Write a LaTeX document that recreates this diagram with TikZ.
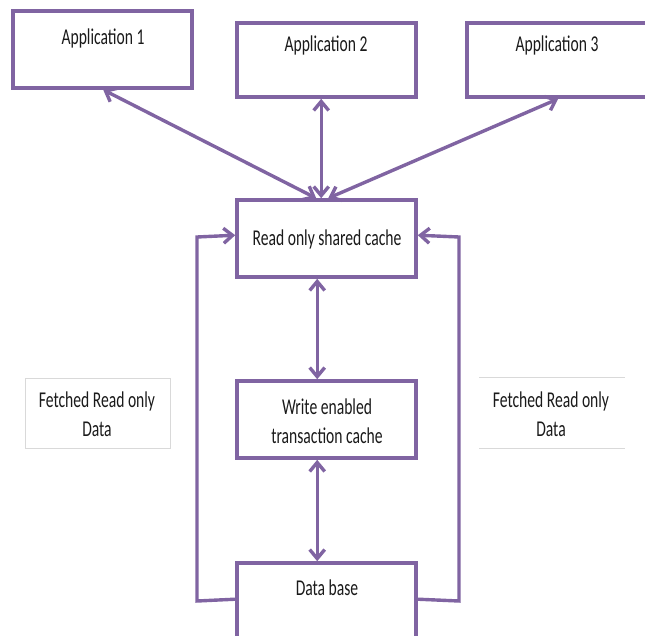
\documentclass[tikz,border=0pt]{standalone}
\usepackage{fontspec}
\setmainfont{Carlito}
\usetikzlibrary{arrows.meta,calc}
\definecolor{pur}{HTML}{8064A2}
\definecolor{lgray}{HTML}{D9D9D9}
\definecolor{txt}{HTML}{1A1A1A}
\newcommand{\tx}[1]{\scalebox{1}[1.45]{\begin{tabular}{@{}c@{}}#1\end{tabular}}}
\tikzset{
  box/.style={draw=pur, line width=3.6pt, minimum width=179pt, minimum height=77pt, inner sep=0pt, fill=white},
  lbl/.style={font=\fontsize{15.6}{20.5}\selectfont, text=txt, inner sep=0pt, align=center},
  link/.style={draw=pur, line width=3.4pt, {Straight Barb[length=9pt,width=15pt]}-{Straight Barb[length=9pt,width=15pt]}},
  loop/.style={draw=pur, line width=3.4pt, -{Straight Barb[length=9pt,width=15pt]}},
}
\begin{document}
\begin{tikzpicture}[x=1pt,y=-1pt]
\useasboundingbox (0,0) rectangle (645,635);
\clip (0,0) rectangle (645,635);
% boxes
\node[box, minimum height=77pt] (app1) at (102.5,49.5) {};
\node[box, minimum height=74pt] (app2) at (326.5,60) {};
\node[box, minimum height=74pt, minimum width=183pt] (app3) at (558.5,60) {};
\node[box] (read) at (326.5,238.5) {};
\node[box] (write) at (326.5,419.5) {};
\node[box] (db) at (326.5,601.5) {};
% fetched boxes
\node[draw=lgray, line width=0.8pt, minimum width=145pt, minimum height=70pt, inner sep=0pt] (fl) at (97.5,413) {};
\coordinate (frtl) at (479,377);
\coordinate (frtr) at (625,377);
\coordinate (frbl) at (479,448);
\coordinate (frbr) at (625,448);
\draw[lgray, line width=0.8pt] (frtl) -- (frtr);
\draw[lgray, line width=0.8pt] (frbl) -- (frbr);
% texts
\node[lbl] (t1) at (103,39) {\tx{Application 1}};
\node[lbl] (t2) at (326,46) {\tx{Application 2}};
\node[lbl] (t3) at (557,46) {\tx{Application 3}};
\node[lbl] (t4) at (327,240) {\tx{Read only shared cache}};
\node[lbl] (t5) at (327,423) {\tx{Write enabled\\transaction cache}};
\node[lbl] (t6) at (327,590) {\tx{Data base}};
\node[lbl] (t7) at (97,416) {\tx{Fetched Read only\\Data}};
\node[lbl] (t8) at (551,416) {\tx{Fetched Read only\\Data}};
% arrows
\coordinate (a1) at ($(app1.south west)+(92,0)$);
\coordinate (r1) at ($(read.north west)+(81,0)$);
\coordinate (a2) at ($(app2.south west)+(86,0)$);
\coordinate (r2) at ($(read.north west)+(86,0)$);
\coordinate (a3) at ($(app3.south west)+(93,0)$);
\coordinate (r3) at ($(read.north west)+(93,0)$);
\draw[link] (a1) -- (r1);
\draw[link] (a2) -- (r2);
\draw[link] (a3) -- (r3);
\draw[link] ($(read.south west)+(82,0)$) -- ($(write.north west)+(82,0)$);
\draw[link] ($(write.south west)+(82,0)$) -- ($(db.north west)+(82,0)$);
% loops
\coordinate (dbl) at ($(db.north west)+(0,38)$);
\coordinate (dbr) at ($(db.north east)+(0,38)$);
\coordinate (rl) at ($(read.north west)+(0,37)$);
\coordinate (rr) at ($(read.north east)+(0,37)$);
\draw[loop] (dbl) -- (197,601) -- (197,237) -- (rl);
\draw[loop] (dbr) -- (459,601) -- (459,237) -- (rr);
\end{tikzpicture}
\end{document}
